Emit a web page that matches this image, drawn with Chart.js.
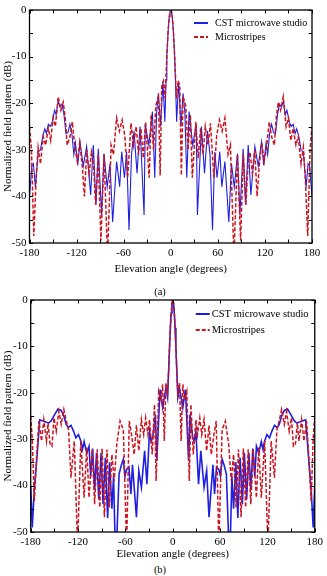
<!DOCTYPE html>
<html>
<head>
<meta charset="utf-8">
<script src="https://cdn.jsdelivr.net/npm/chart.js@4.4.0/dist/chart.umd.min.js"></script>
<style>
  body { margin: 0; background: #fff; width: 327px; height: 576px; position: relative; overflow: hidden; font-family: "Liberation Serif", "Times New Roman", serif; }
  canvas { position: absolute; left: 0; }
  #chartA { top: 0; }
  #chartB { top: 290px; }
  .cap { position: absolute; width: 40px; text-align: center; font-size: 10.5px; line-height: 12px; color: #000; }
</style>
</head>
<body>
<canvas id="chartA" width="327" height="276"></canvas>
<canvas id="chartB" width="327" height="271"></canvas>
<div class="cap" style="left:140px; top:286px;">(a)</div>
<div class="cap" style="left:140px; top:564px;">(b)</div>
<script>
// series as [elevation angle (deg), normalized pattern (dB)]
const aCst = [[-180,-40],[-177,-33.5],[-175,-33],[-172.5,-38],[-169,-30.5],[-166,-30],[-163,-27],[-160.5,-25.5],[-158.5,-26.5],[-156,-24.5],[-153.5,-25],[-151,-24],[-148,-21.5],[-146,-22.5],[-143.5,-19.5],[-141,-20.8],[-138.5,-20.2],[-136,-22.5],[-133.5,-26.5],[-131,-26.3],[-128.5,-24.5],[-126,-26.5],[-123.5,-31],[-121.5,-28.5],[-118.5,-33.3],[-115.7,-28.3],[-111.5,-33.5],[-107.2,-29.3],[-102.1,-39.7],[-98.7,-29],[-95.3,-41.8],[-92.3,-29.8],[-88.1,-44],[-85.1,-30.8],[-81,-38],[-77.4,-33],[-74,-45.5],[-69,-32.5],[-65.1,-37.9],[-62.5,-30.4],[-59,-36],[-56.2,-30.5],[-53.2,-47.2],[-50,-31],[-46.8,-26],[-43,-35],[-39.1,-25],[-34,-44],[-32.5,-24.5],[-28,-29],[-23.4,-21.8],[-20.4,-36],[-18,-22],[-15.7,-17.9],[-13,-25],[-10,-15.4],[-7.5,-24],[-6,-15],[-5,-10],[-3.5,-5],[-2,-1.5],[-1,-0.4],[0,0],
  [1,-0.4],[2,-1.5],[3.5,-5],[5,-10],[6,-15],[7.5,-24],[10,-15.4],[13,-25],[15.7,-17.9],[18,-22],[20.4,-36],[23.4,-21.8],[28,-29],[32.5,-24.5],[34,-44],[39.1,-25],[43,-35],[46.8,-26],[50,-31],[53.2,-47.2],[56.2,-30.5],[59,-36],[62.5,-30.4],[65.1,-37.9],[69,-32.5],[74,-45.5],[77.4,-33],[81,-38],[85.1,-30.8],[88.1,-44],[92.3,-29.8],[95.3,-41.8],[98.7,-29],[102.1,-39.7],[107.2,-29.3],[111.5,-33.5],[115.7,-28.3],[118.5,-33.3],[121.5,-28.5],[123.5,-31],[126,-26.5],[128.5,-24.5],[131,-26.3],[133.5,-26.5],[136,-22.5],[138.5,-20.2],[141,-20.8],[143.5,-19.5],[146,-22.5],[148,-21.5],[151,-24],[153.5,-25],[156,-24.5],[158.5,-26.5],[160.5,-25.5],[163,-27],[166,-30],[169,-30.5],[172.5,-38],[175,-33],[177,-33.5],[180,-40]];

const aMicro = [[-180,-25],[-177.5,-30],[-174.5,-48.5],[-171.5,-36],[-169,-29.5],[-166,-33],[-162.5,-27.2],[-159.5,-29],[-156,-25.4],[-153,-28],[-150,-23.2],[-147,-25],[-143.4,-18.6],[-140,-21.5],[-137,-19.8],[-134.5,-23],[-132,-29],[-128.5,-27.2],[-125.5,-24],[-122,-29.7],[-119,-32.5],[-116,-28.5],[-113,-33],[-110,-40],[-107,-30],[-104,-35],[-101,-30.5],[-98.5,-33],[-95.7,-41.8],[-92.5,-31],[-89,-49.5],[-85,-31],[-80.5,-53],[-76,-29],[-73,-31],[-69,-23.2],[-65.5,-26],[-62,-23.6],[-58.5,-27],[-55,-36],[-50.6,-24.3],[-47.5,-29],[-44,-25],[-41,-31],[-38,-25.4],[-35,-31.8],[-32,-24],[-27.5,-36],[-25,-22.5],[-22,-30],[-19,-20.4],[-15.7,-18.6],[-13.5,-35.5],[-11.5,-16.1],[-9.3,-15.2],[-7.3,-19],[-6,-14],[-5,-10],[-3.5,-5],[-2,-1.5],[-1,-0.4],[0,0],
  [1,-0.4],[2,-1.5],[3.5,-5],[5,-10],[6,-14],[7.3,-19],[9.3,-15.2],[11.5,-16.1],[13.5,-35.5],[15.7,-18.6],[19,-20.4],[22,-30],[25,-22.5],[27.5,-36],[32,-24],[35,-31.8],[38,-25.4],[41,-31],[44,-25],[47.5,-29],[50.6,-24.3],[55,-36],[58.5,-27],[62,-23.6],[65.5,-26],[69,-23.2],[73,-31],[76,-29],[80.5,-53],[85,-31],[89,-49.5],[92.5,-31],[95.7,-41.8],[98.5,-33],[101,-30.5],[104,-35],[107,-30],[110,-40],[113,-33],[116,-28.5],[119,-32.5],[122,-29.7],[125.5,-24],[128.5,-27.2],[132,-29],[134.5,-23],[137,-19.8],[140,-21.5],[143.4,-18.6],[147,-25],[150,-23.2],[153,-28],[156,-25.4],[159.5,-29],[162.5,-27.2],[166,-33],[169,-29.5],[171.5,-36],[174.5,-48.5],[177.5,-30],[180,-25]];

const bCst = [[-180,-40],[-178,-49],[-175.5,-41],[-172.5,-34.7],[-168.5,-25.8],[-165,-26],[-161,-26.3],[-157,-26.5],[-154,-26],[-149.7,-24.7],[-145.5,-23.5],[-141.4,-23.8],[-138,-25],[-135,-26.8],[-132.2,-27.5],[-129,-27],[-125.6,-28.3],[-122.7,-29.7],[-119.4,-29],[-116.5,-30.4],[-114.4,-32.2],[-112.3,-30.5],[-109,-33],[-106.1,-31.5],[-104,-38],[-101.5,-32],[-99,-41],[-96.6,-33],[-93.7,-43],[-90.8,-33],[-88.3,-44],[-85.4,-34],[-82.5,-47],[-80,-35],[-77.1,-45],[-75,-38],[-73,-52],[-71,-52],[-68,-37.5],[-65,-35.5],[-62.6,-34.3],[-60.5,-38],[-58.4,-36.5],[-55.5,-36],[-53,-41.8],[-51,-35.5],[-46,-46.8],[-43,-36.8],[-39.7,-40.4],[-35.6,-32.5],[-32.7,-39.7],[-29.4,-28.3],[-27.3,-30.5],[-25.2,-29.5],[-21.9,-24.7],[-20.2,-34.7],[-16.1,-19.3],[-12.8,-23.2],[-8.6,-19],[-6.5,-21],[-5,-14.5],[-4,-10],[-3,-6],[-2,-2.8],[-1,-0.7],[0,0],
  [1,-0.7],[2,-2.8],[3,-6],[4,-10],[5,-14.5],[6.5,-21],[8.6,-19],[12.8,-23.2],[16.1,-19.3],[20.2,-34.7],[21.9,-24.7],[25.2,-29.5],[27.3,-30.5],[29.4,-28.3],[32.7,-39.7],[35.6,-32.5],[39.7,-40.4],[43,-36.8],[46,-46.8],[51,-35.5],[53,-41.8],[55.5,-36],[58.4,-36.5],[60.5,-38],[62.6,-34.3],[65,-35.5],[68,-37.5],[71,-52],[73,-52],[75,-38],[77.1,-45],[80,-35],[82.5,-47],[85.4,-34],[88.3,-44],[90.8,-33],[93.7,-43],[96.6,-33],[99,-41],[101.5,-32],[104,-38],[106.1,-31.5],[109,-33],[112.3,-30.5],[114.4,-32.2],[116.5,-30.4],[119.4,-29],[122.7,-29.7],[125.6,-28.3],[129,-27],[132.2,-27.5],[135,-26.8],[138,-25],[141.4,-23.8],[145.5,-23.5],[149.7,-24.7],[154,-26],[157,-26.5],[161,-26.3],[165,-26],[168.5,-25.8],[172.5,-34.7],[175.5,-41],[178,-49],[180,-40]];

const bMicro = [[-180,-25],[-178,-30],[-175.4,-43.3],[-172.5,-34],[-169.6,-26.1],[-166.3,-30.4],[-163.4,-25.8],[-160,-30.4],[-158,-26.5],[-155.5,-31],[-153,-31.5],[-150.5,-25.4],[-147.6,-28.3],[-144.3,-24],[-141.4,-26.8],[-138,-23.6],[-135,-26],[-132,-28],[-128.9,-38.3],[-124.8,-30.4],[-120.6,-53],[-116.5,-30.4],[-112.3,-42.6],[-109,-31.8],[-106.1,-42.6],[-102,-32.2],[-99,-44],[-95.7,-32.2],[-92.4,-44.7],[-89.5,-32],[-86.6,-46.8],[-83.3,-32.2],[-80.4,-44.7],[-77.1,-33.3],[-74.2,-39],[-70.9,-31.1],[-66.7,-26.1],[-62.6,-28],[-58.4,-53],[-55.1,-26.1],[-52.2,-29],[-48.9,-33.3],[-46,-27],[-43,-32.5],[-39.7,-25.8],[-36.8,-29],[-34.3,-25.4],[-31.4,-29],[-29.4,-25.8],[-26,-33.3],[-23.1,-22.5],[-21,-39],[-17.8,-19.7],[-14.9,-21.5],[-12.8,-18.2],[-10.7,-30.4],[-8.6,-17.9],[-6.5,-20],[-5,-14.5],[-4,-10],[-3,-6],[-2,-2.8],[-1,-0.7],[0,0],
  [1,-0.7],[2,-2.8],[3,-6],[4,-10],[5,-14.5],[6.5,-20],[8.6,-17.9],[10.7,-30.4],[12.8,-18.2],[14.9,-21.5],[17.8,-19.7],[21,-39],[23.1,-22.5],[26,-33.3],[29.4,-25.8],[31.4,-29],[34.3,-25.4],[36.8,-29],[39.7,-25.8],[43,-32.5],[46,-27],[48.9,-33.3],[52.2,-29],[55.1,-26.1],[58.4,-53],[62.6,-28],[66.7,-26.1],[70.9,-31.1],[74.2,-39],[77.1,-33.3],[80.4,-44.7],[83.3,-32.2],[86.6,-46.8],[89.5,-32],[92.4,-44.7],[95.7,-32.2],[99,-44],[102,-32.2],[106.1,-42.6],[109,-31.8],[112.3,-42.6],[116.5,-30.4],[120.6,-53],[124.8,-30.4],[128.9,-38.3],[132,-28],[135,-26],[138,-23.6],[141.4,-26.8],[144.3,-24],[147.6,-28.3],[150.5,-25.4],[153,-31.5],[155.5,-31],[158,-26.5],[160,-30.4],[163.4,-25.8],[166.3,-30.4],[169.6,-26.1],[172.5,-34],[175.4,-43.3],[178,-30],[180,-25]];

const seriesNames = ['CST microwave studio', 'Microstripes'];
const cstBlue = '#1f1fe0';
const microRed = '#cc1420';
const serif = '"Liberation Serif", "Times New Roman", serif';

function toPoints(pairs) {
    return pairs.map(p => ({x: p[0], y: p[1]}));
}

// box round the plot with inward ticks, and the legend in the top right corner
const frameLegend = {
    id: 'frameLegend',
    afterDatasetsDraw(chart, args, opts) {
        const {ctx, chartArea: a, scales: {x, y}} = chart;
        ctx.save();
        ctx.strokeStyle = '#000';
        ctx.lineWidth = 1;
        x.ticks.forEach(t => {
            const px = Math.round(x.getPixelForValue(t.value)) + 0.5;
            ctx.beginPath();
            ctx.moveTo(px, a.top); ctx.lineTo(px, a.top + 3.5);
            ctx.moveTo(px, a.bottom); ctx.lineTo(px, a.bottom - 3.5);
            ctx.stroke();
        });
        y.ticks.forEach(t => {
            const py = Math.round(y.getPixelForValue(t.value)) + 0.5;
            ctx.beginPath();
            ctx.moveTo(a.left, py); ctx.lineTo(a.left + 3.5, py);
            ctx.moveTo(a.right, py); ctx.lineTo(a.right - 3.5, py);
            ctx.stroke();
        });
        ctx.lineWidth = 1.3;
        ctx.strokeRect(a.left, a.top, a.width, a.height);

        // legend
        ctx.font = opts.fontSize + 'px ' + serif;
        ctx.textBaseline = 'middle';
        ctx.fillStyle = '#000';
        chart.data.datasets.forEach((ds, i) => {
            const ly = a.top + opts.rowY[i];
            const lx = a.right - opts.fromRight;
            ctx.beginPath();
            ctx.strokeStyle = ds.borderColor;
            ctx.lineWidth = 2;
            ctx.setLineDash(ds.borderDash || []);
            ctx.moveTo(lx, ly); ctx.lineTo(lx + 14, ly);
            ctx.stroke();
            ctx.setLineDash([]);
            ctx.fillText(ds.label, lx + opts.textGap, ly);
        });
        ctx.restore();
    }
};

function makeChart(id, cst, micro, cfg) {
    new Chart(document.getElementById(id), {
        type: 'line',
        data: {
            datasets: [{
                label: seriesNames[0],
                data: toPoints(cst),
                borderColor: cstBlue,
                borderWidth: cfg.cstWidth,
                pointRadius: 0,
                order: 2
            }, {
                label: seriesNames[1],
                data: toPoints(micro),
                borderColor: microRed,
                borderWidth: 1.5,
                borderDash: [4, 2],
                pointRadius: 0,
                order: 1
            }]
        },
        options: {
            responsive: false,
            animation: false,
            layout: { padding: { left: 0, right: cfg.right, top: 10, bottom: 0 } },
            plugins: {
                legend: { display: false },
                tooltip: { enabled: false },
                frameLegend: cfg.legend
            },
            scales: {
                x: {
                    type: 'linear',
                    min: -180,
                    max: 180,
                    grid: { display: false, drawTicks: false },
                    border: { display: false },
                    afterFit: s => { s.height = cfg.xHeight; },
                    ticks: {
                        stepSize: 30,
                        autoSkip: false,
                        maxRotation: 0,
                        padding: 4,
                        color: '#000',
                        font: { family: serif, size: 11 },
                        callback: v => (v % 60 === 0 ? v : '')
                    },
                    title: {
                        display: true,
                        text: 'Elevation angle (degrees)',
                        color: '#000',
                        font: { family: serif, size: 11 },
                        padding: { top: 0, bottom: 0 }
                    }
                },
                y: {
                    min: -50,
                    max: 0,
                    grid: { display: false, drawTicks: false },
                    border: { display: false },
                    afterFit: s => { s.width = cfg.yWidth; },
                    ticks: {
                        stepSize: 5,
                        padding: 3,
                        color: '#000',
                        font: { family: serif, size: 11 },
                        callback: v => (v % 10 === 0 ? v : '')
                    },
                    title: {
                        display: true,
                        text: 'Normalized field pattern (dB)',
                        color: '#000',
                        font: { family: serif, size: 11 },
                        padding: { top: 2, bottom: 0 }
                    }
                }
            }
        },
        plugins: [frameLegend]
    });
}

makeChart('chartA', aCst, aMicro, {
    cstWidth: 1.1, right: 15, xHeight: 33, yWidth: 29.5,
    legend: { fontSize: 10, rowY: [13, 27], fromRight: 118, textGap: 21 }
});

makeChart('chartB', bCst, bMicro, {
    cstWidth: 1.6, right: 7, xHeight: 29, yWidth: 30.7,
    legend: { fontSize: 10.5, rowY: [14, 30], fromRight: 119, textGap: 16 }
});
</script>
</body>
</html>
